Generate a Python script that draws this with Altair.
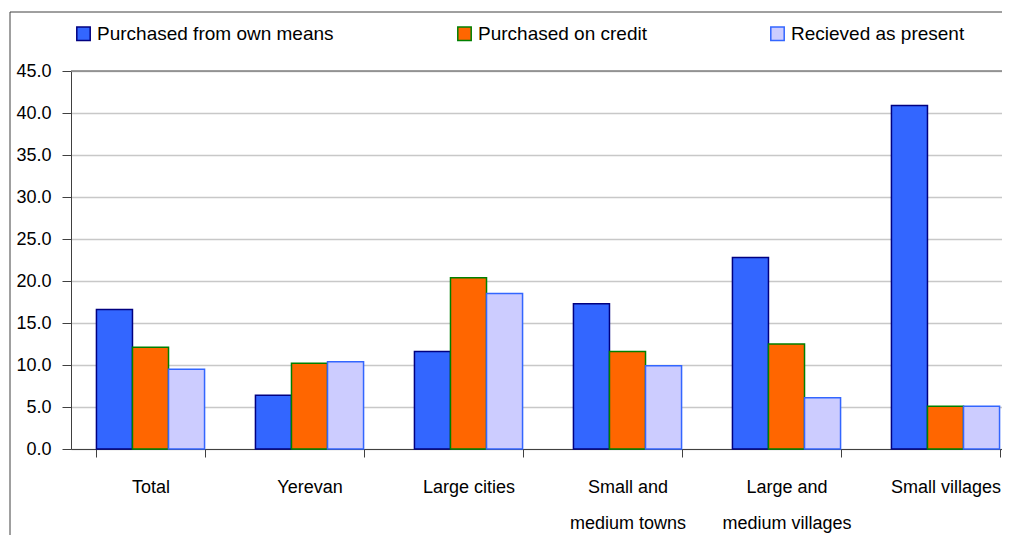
import altair as alt
import pandas as pd

categories = ["Total", "Yerevan", "Large cities", "Small and\nmedium towns",
              "Large and\nmedium villages", "Small villages"]
series = ["Purchased from own means", "Purchased on credit", "Recieved as present"]
own_means = [16.6, 6.4, 11.6, 17.3, 22.8, 40.9]
on_credit = [12.1, 10.2, 20.4, 11.6, 12.5, 5.1]
as_present = [9.5, 10.4, 18.5, 9.9, 6.1, 5.1]
y_ticks = [0, 5, 10, 15, 20, 25, 30, 35, 40, 45]
fill_colors = ["#3366FF", "#FF6600", "#CCCCFF"]
stroke_colors = ["#000080", "#008000", "#3366FF"]

rows = []
for s, vals in zip(series, [own_means, on_credit, as_present]):
    for c, v in zip(categories, vals):
        rows.append({"category": c, "series": s, "value": v})
df = pd.DataFrame(rows)

PLOT_W = 931
PLOT_H = 378
FONT = "Liberation Sans"

legend = alt.Legend(
    title=None, orient="none", legendX=3, legendY=-47, direction="horizontal",
    columns=3, columnPadding=120, symbolType="square", symbolSize=180,
    symbolStrokeWidth=1.5, labelFontSize=19, labelFont=FONT, labelColor="#000000",
    labelOffset=4, labelLimit=400,
)

bars = alt.Chart(df).mark_bar(strokeWidth=1.5).encode(
    x=alt.X("category:N", sort=categories,
            scale=alt.Scale(range=[0, 954], paddingInner=0.32, paddingOuter=0.16),
            axis=alt.Axis(title=None, labelAngle=0, tickBand="extent",
                          labelExpr="split(datum.label, '\\n')",
                          labelFontSize=18, labelFont=FONT, labelColor="#000000",
                          labelLineHeight=36, tickSize=8, labelPadding=21,
                          domainColor="#404040", tickColor="#404040", grid=False)),
    xOffset=alt.XOffset("series:N", sort=series,
                        scale=alt.Scale(paddingInner=0, paddingOuter=0)),
    y=alt.Y("value:Q", scale=alt.Scale(domain=[0, 45], nice=False),
            axis=alt.Axis(title=None, values=y_ticks, format=".1f",
                          labelFontSize=18, labelFont=FONT, labelColor="#000000",
                          tickSize=9, labelPadding=11,
                          domainColor="#404040", tickColor="#404040",
                          grid=True, gridColor="#c8c8c8", gridWidth=1.5)),
    fill=alt.Fill("series:N", sort=series,
                  scale=alt.Scale(domain=series, range=fill_colors), legend=legend),
    stroke=alt.Stroke("series:N", sort=series,
                      scale=alt.Scale(domain=series, range=stroke_colors), legend=legend),
)

one = pd.DataFrame({"k": [0]})
top_border = alt.Chart(one).mark_rule(color="#808080", strokeWidth=1.5).encode(
    x=alt.value(0), x2=alt.value(960), y=alt.value(0))
frame_left = alt.Chart(one).mark_rule(color="#404040", strokeWidth=1).encode(
    x=alt.value(-61), y=alt.value(-59), y2=alt.value(600))
frame_top = alt.Chart(one).mark_rule(color="#404040", strokeWidth=1).encode(
    x=alt.value(-61), x2=alt.value(1000), y=alt.value(-59))

chart = alt.layer(bars, top_border, frame_left, frame_top).properties(
    width=PLOT_W, height=PLOT_H,
    autosize=alt.AutoSizeParams(type="none"),
    padding={"left": 63, "top": 63, "right": 0, "bottom": 86},
).configure_view(stroke=None).configure(font=FONT)

chart.save("out.html", embed_options={"renderer": "svg", "actions": False})
